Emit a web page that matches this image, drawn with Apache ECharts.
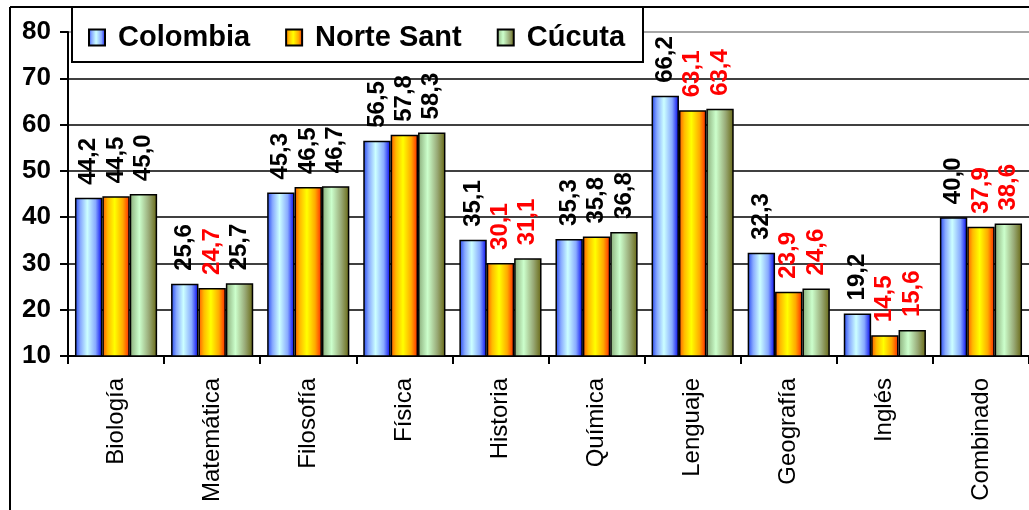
<!DOCTYPE html>
<html>
<head>
<meta charset="utf-8">
<script src="https://cdn.jsdelivr.net/npm/echarts@6/dist/echarts.min.js"></script>
<style>
  html, body { margin: 0; padding: 0; background: #fff; }
  #chart { width: 1029px; height: 510px; }
</style>
</head>
<body>
<div id="chart"></div>
<script>
// categorias y puntajes
var categories = ['Biología', 'Matemática', 'Filosofía', 'Física', 'Historia', 'Química', 'Lenguaje', 'Geografía', 'Inglés', 'Combinado'];
var colombia = [44.2, 25.6, 45.3, 56.5, 35.1, 35.3, 66.2, 32.3, 19.2, 40.0];
var norteSant = [44.5, 24.7, 46.5, 57.8, 30.1, 35.8, 63.1, 23.9, 14.5, 37.9];
var cucuta = [45.0, 25.7, 46.7, 58.3, 31.1, 36.8, 63.4, 24.6, 15.6, 38.6];
var yTicks = [10, 20, 30, 40, 50, 60, 70, 80];

var FONT = 'Liberation Sans, Arial, sans-serif';

function grad(stops) {
  return new echarts.graphic.LinearGradient(0, 0, 1, 0, stops);
}

var blueFill = grad([
  {offset: 0, color: '#2244ee'},
  {offset: 0.2, color: '#88aaff'},
  {offset: 0.45, color: '#ccffff'},
  {offset: 0.75, color: '#88aaff'},
  {offset: 1, color: '#0000ee'}
]);
var yellowFill = grad([
  {offset: 0, color: '#ff5500'},
  {offset: 0.2, color: '#ffbb00'},
  {offset: 0.45, color: '#ffff00'},
  {offset: 0.75, color: '#ffaa00'},
  {offset: 1, color: '#ff2200'}
]);
var greenFill = grad([
  {offset: 0, color: '#88aa77'},
  {offset: 0.35, color: '#ccffcc'},
  {offset: 0.7, color: '#99aa77'},
  {offset: 1, color: '#666611'}
]);

function fmt(v) {
  return v.toFixed(1).replace('.', ',');
}

// rojo cuando el valor queda por debajo del nacional
function labelFor(compare) {
  return {
    show: true,
    position: 'top',
    distance: 13,
    rotate: 90,
    align: 'left',
    verticalAlign: 'middle',
    fontFamily: FONT,
    fontWeight: 'bold',
    fontSize: 24,
    formatter: function (p) {
      var red = compare && p.value < colombia[p.dataIndex];
      return red ? '{r|' + fmt(p.value) + '}' : '{k|' + fmt(p.value) + '}';
    },
    rich: {
      k: {color: '#000', fontFamily: FONT, fontWeight: 'bold', fontSize: 24},
      r: {color: '#ff0000', fontFamily: FONT, fontWeight: 'bold', fontSize: 24}
    }
  };
}

function series(name, data, fill, compare) {
  return {
    name: name,
    type: 'bar',
    data: data,
    barGap: '0%',
    barCategoryGap: '14.5%',
    itemStyle: {color: fill, borderColor: '#000', borderWidth: 1.5},
    label: labelFor(compare)
  };
}

var chart = echarts.init(document.getElementById('chart'));
chart.setOption({
  animation: false,
  backgroundColor: '#fff',
  grid: {left: 68, top: 32, width: 965, height: 324, containLabel: false},
  legend: {
    left: 83,
    top: 18,
    z: 10,
    itemWidth: 16,
    itemHeight: 16,
    itemGap: 35,
    icon: 'rect',
    data: ['Colombia', 'Norte Sant', 'Cúcuta'],
    textStyle: {fontFamily: FONT, fontWeight: 'bold', fontSize: 29, color: '#000', padding: [0, 0, 0, 8]}
  },
  graphic: [
    {type: 'line', z: 5, shape: {x1: 10, y1: 7, x2: 1029, y2: 7}, style: {stroke: '#000', lineWidth: 2}},
    {type: 'line', z: 5, shape: {x1: 10, y1: 7, x2: 10, y2: 510}, style: {stroke: '#000', lineWidth: 2}},
    {type: 'rect', z: 5, shape: {x: 72, y: 7, width: 571, height: 55}, style: {fill: '#fff', stroke: '#000', lineWidth: 2}}
  ],
  xAxis: {
    type: 'category',
    data: categories,
    axisLine: {lineStyle: {color: '#000', width: 2}},
    axisTick: {show: true, length: 8, lineStyle: {color: '#000', width: 2}},
    axisLabel: {rotate: 90, margin: 22, fontFamily: FONT, fontSize: 24, color: '#000', interval: 0}
  },
  yAxis: {
    type: 'value',
    min: yTicks[0],
    max: yTicks[yTicks.length - 1],
    interval: 10,
    axisLine: {show: true, lineStyle: {color: '#000', width: 2}},
    axisTick: {show: true, length: 8, lineStyle: {color: '#000', width: 2}},
    axisLabel: {margin: 17, fontFamily: FONT, fontWeight: 'bold', fontSize: 26, color: '#000'},
    splitLine: {show: true, lineStyle: {color: ['#000', '#000', '#000', '#000', '#000', '#000', '#000', '#888'], width: 1.5}}
  },
  series: [
    series('Colombia', colombia, blueFill, false),
    series('Norte Sant', norteSant, yellowFill, true),
    series('Cúcuta', cucuta, greenFill, true)
  ]
});
</script>
</body>
</html>
